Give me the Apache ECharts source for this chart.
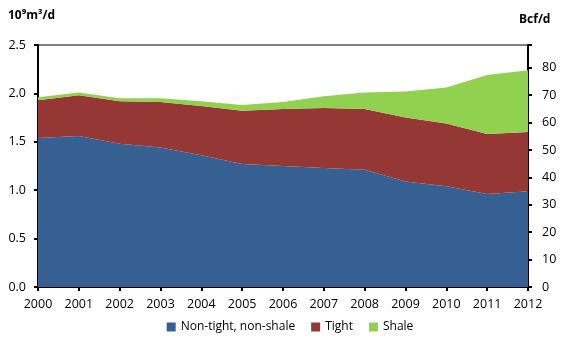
<!DOCTYPE html>
<html><head><meta charset="utf-8">
<script src="https://cdn.jsdelivr.net/npm/echarts@6/dist/echarts.min.js"></script>
<style>html,body{margin:0;padding:0;background:#fff}#c{width:580px;height:346px}</style>
</head><body><div id="c"></div>
<script>
const years = ['2000','2001','2002','2003','2004','2005','2006','2007','2008','2009','2010','2011','2012'];
const nonTight = [1.54,1.56,1.48,1.44,1.36,1.27,1.25,1.23,1.21,1.09,1.04,0.96,0.99];
const tight    = [0.39,0.42,0.44,0.47,0.51,0.55,0.59,0.62,0.63,0.66,0.65,0.62,0.61];
const shale    = [0.03,0.03,0.03,0.04,0.05,0.06,0.07,0.12,0.17,0.27,0.37,0.61,0.64];
const leftTicks = [0,0.5,1.0,1.5,2.0,2.5];
const rightTicks = [0,10,20,30,40,50,60,70,80];
const BCF_PER_BCM = 35.3147;

const font = 'Open Sans, Liberation Sans, sans-serif';
const chart = echarts.init(document.getElementById('c'));
const mk = (name, data, color) => ({
  name, type:'line', stack:'t', data, symbol:'none', smooth:false,
  lineStyle:{width:0}, areaStyle:{color, opacity:1}, itemStyle:{color}
});
chart.setOption({
  animation:false,
  textStyle:{fontFamily:font},
  grid:{left:38,right:52,top:45,bottom:59,show:true,borderColor:'#000',borderWidth:1},
  legend:{bottom:8,left:'center',itemWidth:9,itemHeight:9,itemGap:16,icon:'rect',
    textStyle:{fontSize:12,color:'#000',fontFamily:font}},
  graphic:[
    {type:'text',left:8,top:10,style:{text:'10⁹m³/d',font:'bold 12px '+font,fill:'#000'}},
    {type:'text',left:519,top:14,style:{text:'Bcf/d',font:'bold 12px '+font,fill:'#000'}}
  ],
  xAxis:{type:'category',data:years,boundaryGap:false,
    axisLine:{lineStyle:{color:'#000',width:2}},
    axisTick:{show:true,length:4,alignWithLabel:true,lineStyle:{color:'#000',width:2}},
    axisLabel:{fontSize:12.5,color:'#000',margin:11,fontFamily:font},
    splitLine:{show:false}},
  yAxis:[
    {type:'value',min:0,max:2.5,interval:0.5,position:'left',
     axisLine:{show:true,lineStyle:{color:'#000',width:2}},
     axisTick:{show:true,length:4,lineStyle:{color:'#000',width:2}},
     axisLabel:{fontSize:12.5,color:'#000',formatter:v=>v.toFixed(1),fontFamily:font,margin:12},
     splitLine:{show:false}},
    {type:'value',min:0,max:2.5*BCF_PER_BCM,interval:10,position:'right',
     axisLine:{show:true,lineStyle:{color:'#000',width:2}},
     axisTick:{show:true,length:4,lineStyle:{color:'#000',width:2}},
     axisLabel:{fontSize:12.5,color:'#000',fontFamily:font,margin:14,
       formatter:v=>rightTicks.includes(v)?String(v):''},
     splitLine:{show:false}}
  ],
  series:[
    mk('Non-tight, non-shale',nonTight,'#376092'),
    mk('Tight',tight,'#953735'),
    mk('Shale',shale,'#92d050')
  ]
});
</script></body></html>
